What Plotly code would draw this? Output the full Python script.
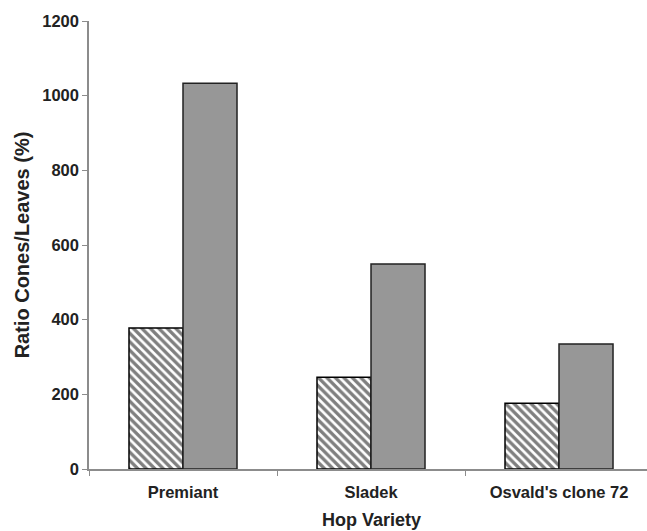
import plotly.graph_objects as go

categories = ["Premiant", "Sladek", "Osvald's clone 72"]
hatched_values = [378, 246, 176]
gray_values = [1033, 549, 335]
y_ticks = [0, 200, 400, 600, 800, 1000, 1200]

FONT = "Liberation Sans, Arial, sans-serif"

fig = go.Figure()
fig.add_trace(go.Bar(
    x=categories, y=hatched_values, name="hatched",
    marker=dict(color="white",
                pattern=dict(shape="\\", fgcolor="black", bgcolor="white", size=6, solidity=0.55),
                line=dict(color="black", width=1.5)),
))
fig.add_trace(go.Bar(
    x=categories, y=gray_values, name="gray",
    marker=dict(color="#979797", line=dict(color="#222222", width=1.5)),
))

fig.update_layout(
    width=647, height=531,
    margin=dict(l=89, r=0, t=21, b=62),
    paper_bgcolor="white", plot_bgcolor="white",
    barmode="group", bargap=0.4255, bargroupgap=0,
    showlegend=False,
    font=dict(family=FONT, color="#222222"),
    annotations=[dict(
        text="<b>Hop Variety</b>", xref="paper", yref="paper", x=0.5, y=0,
        xshift=3, yshift=-51, xanchor="center", yanchor="middle", showarrow=False,
        font=dict(family=FONT, size=18, color="#222222"),
    )],
)
fig.update_xaxes(
    range=[-0.5, 2.468], automargin=False,
    showline=True, linecolor="#8c8c8c", linewidth=1.5,
    ticks="outside", tickson="boundaries", ticklen=5, tickcolor="#8c8c8c",
    ticklabelstandoff=7,
    tickfont=dict(family=FONT, size=16.5, color="#222222", weight="bold"),
    showgrid=False, zeroline=False,
)
fig.update_yaxes(
    range=[0, 1200], tickvals=y_ticks, automargin=False,
    showline=True, linecolor="#8c8c8c", linewidth=1.5,
    ticks="outside", ticklen=5, tickcolor="#8c8c8c",
    tickfont=dict(family=FONT, size=16.5, color="#222222", weight="bold"),
    title=dict(text="<b>Ratio Cones/Leaves (%)</b>", font=dict(family=FONT, size=20, color="#222222"), standoff=7),
    showgrid=False, zeroline=False,
)

fig.write_html("out.html", config={"displayModeBar": False},
               post_script="document.body.style.margin='0';")
